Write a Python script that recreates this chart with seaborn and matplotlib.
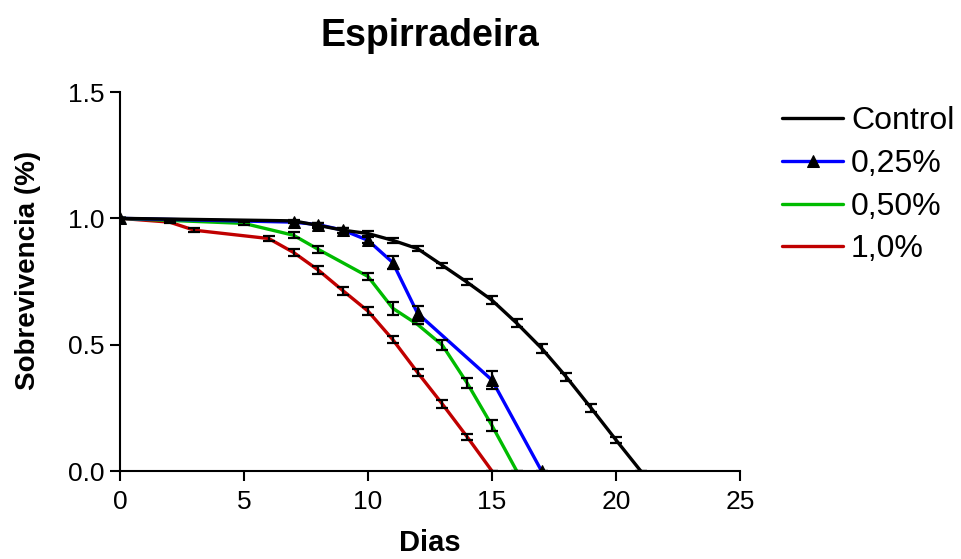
import matplotlib
matplotlib.use("Agg")
import matplotlib.pyplot as plt
import seaborn as sns
import pandas as pd

# survival data
control_days = [0, 7, 8, 9, 10, 11, 12, 13, 14, 15, 16, 17, 18, 19, 20, 21]
control_vals = [1.0, 0.99, 0.972, 0.953, 0.94, 0.913, 0.88, 0.814, 0.747, 0.676, 0.585, 0.486, 0.372, 0.249, 0.123, 0.0]
control_err = [0, 0.005, 0.01, 0.01, 0.01, 0.01, 0.01, 0.01, 0.012, 0.015, 0.015, 0.018, 0.015, 0.015, 0.012, 0]

d025_days = [0, 7, 8, 9, 10, 11, 12, 15, 17]
d025_vals = [1.0, 0.985, 0.975, 0.953, 0.913, 0.825, 0.624, 0.36, 0.0]
d025_err = [0, 0.005, 0.008, 0.01, 0.012, 0.025, 0.03, 0.035, 0]

d050_days = [0, 5, 7, 8, 10, 11, 12, 13, 14, 15, 16]
d050_vals = [1.0, 0.98, 0.933, 0.877, 0.77, 0.644, 0.58, 0.498, 0.348, 0.18, 0.0]
d050_err = [0, 0.005, 0.012, 0.015, 0.015, 0.025, 0, 0.02, 0.02, 0.02, 0]

d10_days = [0, 2, 3, 6, 7, 8, 9, 10, 11, 12, 13, 14, 15]
d10_vals = [1.0, 0.985, 0.953, 0.92, 0.865, 0.795, 0.713, 0.633, 0.52, 0.39, 0.265, 0.135, 0.0]
d10_err = [0, 0.005, 0.008, 0.01, 0.015, 0.015, 0.015, 0.015, 0.015, 0.015, 0.015, 0.012, 0]

labels = ["Control", "0,25%", "0,50%", "1,0%"]
colors = ["#000000", "#0000ff", "#00bb00", "#c00000"]
series = [
    (control_days, control_vals, control_err),
    (d025_days, d025_vals, d025_err),
    (d050_days, d050_vals, d050_err),
    (d10_days, d10_vals, d10_err),
]

sns.set_style("ticks")
plt.rcParams['font.family'] = ['Liberation Sans', 'DejaVu Sans']
plt.rcParams['text.color'] = 'black'
plt.rcParams['axes.labelcolor'] = 'black'
plt.rcParams['xtick.color'] = 'black'
plt.rcParams['ytick.color'] = 'black'
plt.rcParams['axes.edgecolor'] = 'black'

fig = plt.figure(figsize=(9.62, 5.59), dpi=100)
ax = fig.add_axes([0.1247, 0.1574, 0.6445, 0.678])

# draw the last series first so Control ends up on top
for i in [3, 2, 1, 0]:
    days, vals, err = series[i]
    df = pd.DataFrame({"Dias": days, "Sobrevivencia": vals})
    marker = "^" if i == 1 else None
    sns.lineplot(data=df, x="Dias", y="Sobrevivencia", color=colors[i], lw=2.4,
                 marker=marker, markersize=8, markerfacecolor="black",
                 markeredgecolor="black", ax=ax, label=labels[i], zorder=2 + (3 - i))
    ax.errorbar(days, vals, yerr=err, fmt="none", ecolor="black", elinewidth=1.6,
                capsize=4, capthick=1.6, zorder=10)

ax.set_xlim(0, 25)
ax.set_ylim(0, 1.5)
ax.set_xticks([0, 5, 10, 15, 20, 25])
ax.set_yticks([0.0, 0.5, 1.0, 1.5])
ax.set_yticklabels(["0.0", "0.5", "1.0", "1.5"])
ax.tick_params(labelsize=19, width=1.5, length=7, direction="out")
ax.tick_params(axis="x", pad=7)
ax.tick_params(axis="y", pad=4)
for s in ["left", "bottom"]:
    ax.spines[s].set_linewidth(1.5)
sns.despine(ax=ax)
ax.set_xlabel("Dias", fontsize=21, fontweight="bold")
ax.set_ylabel("Sobrevivencia (%)", fontsize=20, fontweight="bold")
ax.xaxis.set_label_coords(0.5, -0.152)
ax.yaxis.set_label_coords(-0.128, 0.53)
fig.text(0.447, 0.936, "Espirradeira", fontsize=27, fontweight="bold",
         ha="center", va="center")

h, l = ax.get_legend_handles_labels()
order = [l.index(lab) for lab in labels]
ax.legend([h[k] for k in order], labels, loc="upper left",
          bbox_to_anchor=(0.800, 0.833), bbox_transform=fig.transFigure,
          frameon=False, fontsize=23, handlelength=1.9, handletextpad=0.25,
          labelspacing=0.4, borderaxespad=0)

fig.savefig("out.png", dpi=100)
